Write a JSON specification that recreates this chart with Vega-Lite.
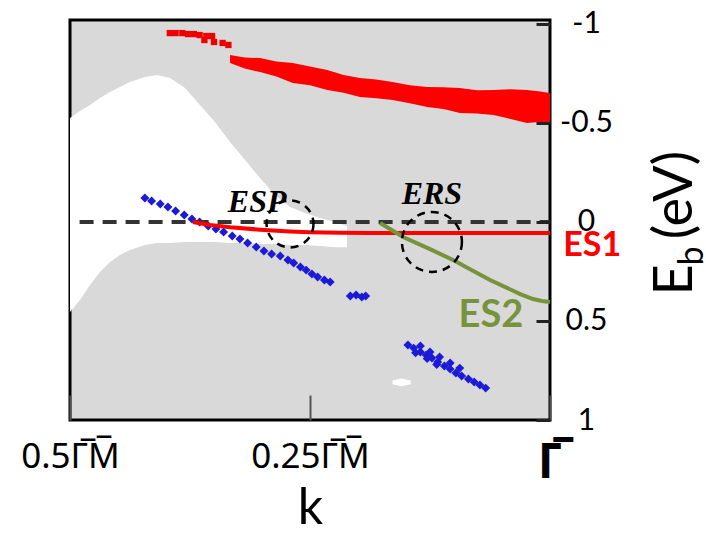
{
  "$schema": "https://vega.github.io/schema/vega-lite/v6.json",
  "width": 480,
  "height": 400,
  "autosize": {"type": "none"},
  "padding": {"left": 70, "top": 20, "right": 156, "bottom": 114},
  "background": "white",
  "config": {
    "view": {"fill": "#d9d9d9", "stroke": "#000000", "strokeWidth": 3},
    "font": "Lato"
  },
  "datasets": {
    "white": [
      {"k": 0.5, "E": -0.525, "E2": 0.455},
      {"k": 0.4896, "E": -0.56, "E2": 0.394},
      {"k": 0.4792, "E": -0.591, "E2": 0.318},
      {"k": 0.4688, "E": -0.626, "E2": 0.253},
      {"k": 0.4583, "E": -0.656, "E2": 0.202},
      {"k": 0.4479, "E": -0.682, "E2": 0.167},
      {"k": 0.4375, "E": -0.707, "E2": 0.142},
      {"k": 0.4219, "E": -0.732, "E2": 0.116},
      {"k": 0.4094, "E": -0.742, "E2": 0.106},
      {"k": 0.3958, "E": -0.727, "E2": 0.106},
      {"k": 0.3802, "E": -0.677, "E2": 0.101},
      {"k": 0.3646, "E": -0.591, "E2": 0.101},
      {"k": 0.349, "E": -0.505, "E2": 0.101},
      {"k": 0.3333, "E": -0.404, "E2": 0.106},
      {"k": 0.3177, "E": -0.313, "E2": 0.106},
      {"k": 0.3021, "E": -0.222, "E2": 0.111},
      {"k": 0.2865, "E": -0.136, "E2": 0.111},
      {"k": 0.2708, "E": -0.076, "E2": 0.116},
      {"k": 0.2552, "E": -0.045, "E2": 0.116},
      {"k": 0.2396, "E": -0.02, "E2": 0.121},
      {"k": 0.224, "E": 0.0, "E2": 0.127},
      {"k": 0.2115, "E": 0.02, "E2": 0.127}
    ],
    "whiteblob": [
      {"k": 0.164, "E": 0.8, "E2": 0.82},
      {"k": 0.155, "E": 0.79, "E2": 0.83},
      {"k": 0.145, "E": 0.8, "E2": 0.82}
    ],
    "redband": [
      {"k": 0.3333, "E": -0.843, "E2": -0.803},
      {"k": 0.318, "E": -0.83, "E2": -0.775},
      {"k": 0.302, "E": -0.828, "E2": -0.757},
      {"k": 0.285, "E": -0.81, "E2": -0.735},
      {"k": 0.268, "E": -0.803, "E2": -0.702},
      {"k": 0.25, "E": -0.785, "E2": -0.69},
      {"k": 0.232, "E": -0.767, "E2": -0.666},
      {"k": 0.215, "E": -0.742, "E2": -0.652},
      {"k": 0.198, "E": -0.727, "E2": -0.631},
      {"k": 0.181, "E": -0.72, "E2": -0.625},
      {"k": 0.164, "E": -0.707, "E2": -0.616},
      {"k": 0.146, "E": -0.69, "E2": -0.6},
      {"k": 0.128, "E": -0.682, "E2": -0.581},
      {"k": 0.111, "E": -0.68, "E2": -0.57},
      {"k": 0.094, "E": -0.677, "E2": -0.55},
      {"k": 0.076, "E": -0.665, "E2": -0.548},
      {"k": 0.059, "E": -0.666, "E2": -0.54},
      {"k": 0.041, "E": -0.67, "E2": -0.52},
      {"k": 0.024, "E": -0.666, "E2": -0.5},
      {"k": 0.012, "E": -0.66, "E2": -0.505},
      {"k": 0.0, "E": -0.651, "E2": -0.5}
    ],
    "reddots": [
      {"k": 0.396, "E": -0.954},
      {"k": 0.39, "E": -0.954},
      {"k": 0.383, "E": -0.954},
      {"k": 0.377, "E": -0.949},
      {"k": 0.371, "E": -0.949},
      {"k": 0.365, "E": -0.944},
      {"k": 0.358, "E": -0.939},
      {"k": 0.352, "E": -0.939},
      {"k": 0.36, "E": -0.919},
      {"k": 0.35, "E": -0.909},
      {"k": 0.341, "E": -0.904},
      {"k": 0.335, "E": -0.894}
    ],
    "blue": [
      {"k": 0.422, "E": -0.121},
      {"k": 0.415, "E": -0.106},
      {"k": 0.406, "E": -0.091},
      {"k": 0.398, "E": -0.076},
      {"k": 0.39, "E": -0.055},
      {"k": 0.381, "E": -0.035},
      {"k": 0.373, "E": -0.015},
      {"k": 0.365, "E": 0.0},
      {"k": 0.356, "E": 0.02},
      {"k": 0.348, "E": 0.036},
      {"k": 0.34, "E": 0.051},
      {"k": 0.331, "E": 0.071},
      {"k": 0.323, "E": 0.086},
      {"k": 0.315, "E": 0.106},
      {"k": 0.306, "E": 0.126},
      {"k": 0.298, "E": 0.147},
      {"k": 0.29, "E": 0.162},
      {"k": 0.281, "E": 0.172},
      {"k": 0.273, "E": 0.192},
      {"k": 0.267, "E": 0.207},
      {"k": 0.26, "E": 0.227},
      {"k": 0.254, "E": 0.243},
      {"k": 0.248, "E": 0.263},
      {"k": 0.242, "E": 0.278},
      {"k": 0.235, "E": 0.293},
      {"k": 0.229, "E": 0.303},
      {"k": 0.208, "E": 0.374},
      {"k": 0.202, "E": 0.369},
      {"k": 0.196, "E": 0.379},
      {"k": 0.192, "E": 0.374},
      {"k": 0.148, "E": 0.621},
      {"k": 0.142, "E": 0.637},
      {"k": 0.135, "E": 0.657},
      {"k": 0.129, "E": 0.672},
      {"k": 0.123, "E": 0.687},
      {"k": 0.117, "E": 0.707},
      {"k": 0.11, "E": 0.727},
      {"k": 0.104, "E": 0.743},
      {"k": 0.098, "E": 0.763},
      {"k": 0.092, "E": 0.778},
      {"k": 0.085, "E": 0.793},
      {"k": 0.079, "E": 0.808},
      {"k": 0.073, "E": 0.823},
      {"k": 0.067, "E": 0.839},
      {"k": 0.135, "E": 0.626},
      {"k": 0.125, "E": 0.657},
      {"k": 0.115, "E": 0.682},
      {"k": 0.104, "E": 0.712},
      {"k": 0.094, "E": 0.738},
      {"k": 0.14, "E": 0.66},
      {"k": 0.128, "E": 0.69},
      {"k": 0.118, "E": 0.72}
    ],
    "zero": [{"k": 0.49, "k2": 0.0, "E": 0}],
    "es1": [
      {"k": 0.372, "E": 0.0},
      {"k": 0.354, "E": 0.015},
      {"k": 0.333, "E": 0.027},
      {"k": 0.302, "E": 0.039},
      {"k": 0.271, "E": 0.048},
      {"k": 0.25, "E": 0.052},
      {"k": 0.219, "E": 0.055},
      {"k": 0.1875, "E": 0.056},
      {"k": 0.0, "E": 0.056}
    ],
    "es2": [
      {"k": 0.177, "E": 0.005},
      {"k": 0.153, "E": 0.076},
      {"k": 0.125, "E": 0.137},
      {"k": 0.101, "E": 0.192},
      {"k": 0.0625, "E": 0.293},
      {"k": 0.031, "E": 0.364},
      {"k": 0.0177, "E": 0.389},
      {"k": 0.0083, "E": 0.399},
      {"k": 0.0, "E": 0.404}
    ],
    "circESP": [{"k": 0.2708, "E": 0.01}],
    "circERS": [{"k": 0.123, "E": 0.101}],
    "serifLabels": [
      {"k": 0.305, "E": -0.101, "t": "ESP"},
      {"k": 0.123, "E": -0.141, "t": "ERS"}
    ],
    "es1Label": [{"k": -0.044, "E": 0.121, "t": "ES1"}],
    "es2Label": [{"k": 0.0615, "E": 0.475, "t": "ES2"}],
    "titleBig": [
      {"k": -0.148, "E": -0.136, "t": "(eV)"},
      {"k": -0.148, "E": 0.293, "t": "E"}
    ],
    "titleSub": [{"k": -0.159, "E": 0.172, "t": "b"}]
  },
  "encoding": {
    "x": {
      "field": "k",
      "type": "quantitative",
      "scale": {"domain": [0.5, 0], "nice": false, "zero": false},
      "axis": {
        "values": [0.5, 0.25, 0],
        "labelExpr": "datum.value == 0.5 ? '0.5\u0393\u0305M\u0305' : (datum.value == 0.25 ? '0.25\u0393\u0305M\u0305' : '\u0393\u0305')",
        "labelFont": "Noto Sans",
        "labelFontSize": {"condition": {"test": "datum.value == 0", "value": 48}, "value": 35},
        "labelFontWeight": {"condition": {"test": "datum.value == 0", "value": "bold"}, "value": "normal"},
        "labelColor": "#000000",
        "labelPadding": 44,
        "labelOverlap": false,
        "labelFlush": false,
        "labelBound": false,
        "domain": false,
        "grid": false,
        "tickSize": -25,
        "tickWidth": 2,
        "tickColor": "#555555",
        "title": "k",
        "titleFontSize": 50,
        "titleFontWeight": "normal",
        "titleColor": "#000000",
        "titlePadding": -4,
        "zindex": 1
      }
    },
    "y": {
      "field": "E",
      "type": "quantitative",
      "scale": {"domain": [-1.02, 1.0], "reverse": true, "nice": false, "zero": false},
      "axis": {
        "orient": "right",
        "values": [-1, -0.5, 0, 0.5, 1],
        "labelExpr": "datum.value < 0 ? '-' + format(-datum.value, '~g') : format(datum.value, '~g')",
        "labelFontSize": 30,
        "labelColor": "#000000",
        "labelAlign": "center",
        "labelPadding": 50,
        "labelOverlap": false,
        "labelBound": false,
        "domain": false,
        "grid": false,
        "tickSize": -14,
        "tickWidth": 3,
        "tickColor": "#222222",
        "title": null,
        "zindex": 1
      }
    }
  },
  "layer": [
    {
      "data": {"name": "white"},
      "mark": {"type": "area", "color": "#ffffff", "opacity": 1},
      "encoding": {"y2": {"field": "E2"}}
    },
    {
      "data": {"name": "whiteblob"},
      "mark": {"type": "area", "color": "#ffffff", "opacity": 1},
      "encoding": {"y2": {"field": "E2"}}
    },
    {
      "data": {"name": "redband"},
      "mark": {"type": "area", "color": "#ff0000", "opacity": 1},
      "encoding": {"y2": {"field": "E2"}}
    },
    {
      "data": {"name": "reddots"},
      "mark": {"type": "point", "shape": "square", "filled": true, "size": 40, "color": "#ee0000", "opacity": 1}
    },
    {
      "data": {"name": "blue"},
      "mark": {"type": "point", "shape": "diamond", "filled": true, "size": 80, "color": "#1a1ad8", "opacity": 1}
    },
    {
      "data": {"name": "zero"},
      "mark": {"type": "rule", "color": "#333333", "strokeWidth": 4, "strokeDash": [14, 9]},
      "encoding": {"x2": {"field": "k2"}}
    },
    {
      "data": {"name": "es1"},
      "mark": {"type": "line", "color": "#ff0000", "strokeWidth": 4},
      "encoding": {}
    },
    {
      "data": {"name": "es2"},
      "mark": {"type": "line", "color": "#77933c", "strokeWidth": 4},
      "encoding": {}
    },
    {
      "data": {"name": "circESP"},
      "mark": {"type": "point", "shape": "circle", "filled": false, "size": 2200, "color": "#000000", "strokeWidth": 2.5, "strokeDash": [8, 6], "opacity": 1}
    },
    {
      "data": {"name": "circERS"},
      "mark": {"type": "point", "shape": "circle", "filled": false, "size": 3600, "color": "#000000", "strokeWidth": 2.5, "strokeDash": [8, 6], "opacity": 1}
    },
    {
      "data": {"name": "serifLabels"},
      "mark": {"type": "text", "font": "Liberation Serif", "fontStyle": "italic", "fontWeight": "bold", "fontSize": 32, "color": "#000000", "align": "center", "baseline": "middle"},
      "encoding": {"text": {"field": "t"}}
    },
    {
      "data": {"name": "es1Label"},
      "mark": {"type": "text", "fontWeight": "bold", "fontSize": 34, "color": "#ff0000", "align": "center", "baseline": "middle"},
      "encoding": {"text": {"field": "t"}}
    },
    {
      "data": {"name": "es2Label"},
      "mark": {"type": "text", "fontWeight": "bold", "fontSize": 38, "color": "#77933c", "align": "center", "baseline": "middle"},
      "encoding": {"text": {"field": "t"}}
    },
    {
      "data": {"name": "titleBig"},
      "mark": {"type": "text", "fontSize": 54, "color": "#000000", "align": "center", "baseline": "alphabetic", "angle": 270},
      "encoding": {"text": {"field": "t"}}
    },
    {
      "data": {"name": "titleSub"},
      "mark": {"type": "text", "fontSize": 34, "color": "#000000", "align": "center", "baseline": "alphabetic", "angle": 270},
      "encoding": {"text": {"field": "t"}}
    }
  ]
}
